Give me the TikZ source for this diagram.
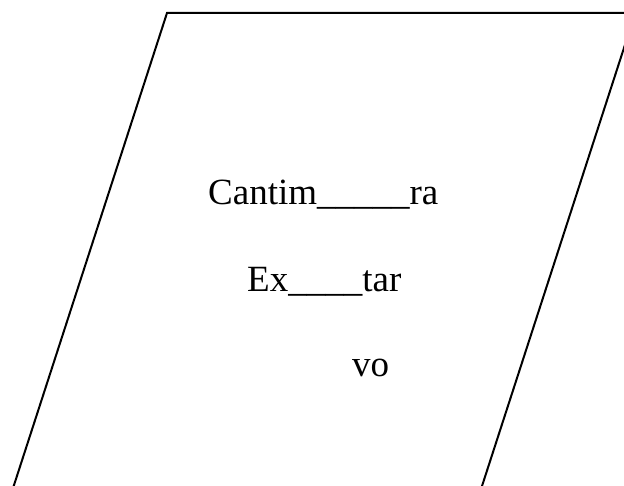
\documentclass[tikz,border=0pt]{standalone}
\usepackage{fontspec}
\setmainfont{Liberation Serif}
\def\normaledge{2}
\definecolor{edgeblack}{rgb}{0,0,0}

\begin{document}
\begin{tikzpicture}[x = 1pt, y = -1pt, scale = 1,
    word/.style={font=\fontsize{37}{40}\selectfont, anchor=base west, inner sep=0pt}]

            \useasboundingbox (0,0) rectangle (624,486);
            \clip (0,0) rectangle (624,486);

            \coordinate (tl) at (167,13);
            \coordinate (tr) at (635.3,13);
            \coordinate (br) at (471,520);
            \coordinate (bl) at (2.7,520);

            \draw [line width=\normaledge, color=edgeblack, line join=miter] (tl) -- (tr) -- (br) -- (bl) -- cycle;

            \node[word] (cantim) at (208,205){Cantim\_\_\_\_\_ra};
            \node[word] (extar) at (247,292){Ex\_\_\_\_tar};
            \node[word] (vo) at (352,377){vo};

        \end{tikzpicture}
\end{document}
